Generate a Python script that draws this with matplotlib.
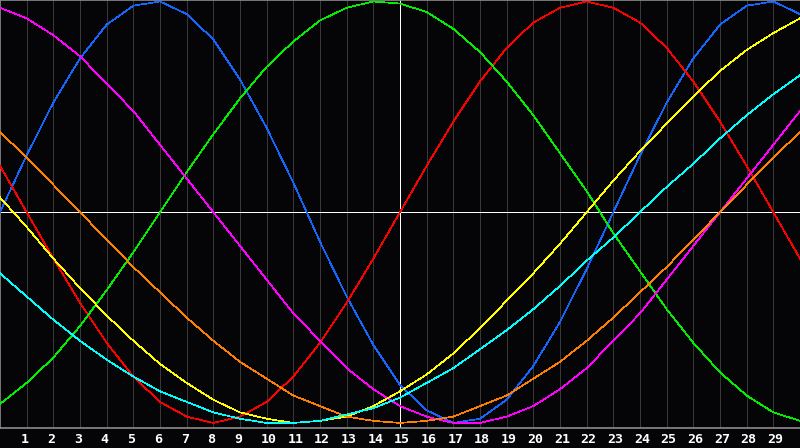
import numpy as np
import matplotlib.pyplot as plt
from matplotlib.transforms import offset_copy

# days shown on the chart (0 .. 30), today marked at day 15
days = np.arange(31)
today = 15
day_labels = [str(d) for d in range(1, 30)]

# cycle values in percent, one per day
physical = [0, 27, 52, 73, 89, 98, 100, 94, 82, 63, 40, 14, -14, -40, -63, -82,
            -94, -100, -98, -89, -73, -52, -27, 0, 27, 52, 73, 89, 98, 100, 94]
emotional = [22, 0, -22, -43, -62, -78, -90, -97, -100, -97, -90, -78, -62, -43, -22, 0,
             22, 43, 62, 78, 90, 97, 100, 97, 90, 78, 62, 43, 22, 0, -22]
intellectual = [-91, -81, -69, -54, -37, -19, 0, 19, 37, 54, 69, 81, 91, 97, 100, 99,
                95, 87, 76, 62, 46, 28, 10, -10, -28, -46, -62, -76, -87, -95, -99]
intuitive = [97, 92, 84, 74, 61, 48, 32, 16, 0, -16, -32, -48, -61, -74, -84, -92,
             -97, -100, -100, -97, -92, -84, -74, -61, -48, -32, -16, 0, 16, 32, 48]
aesthetic = [7, -7, -22, -36, -49, -61, -72, -81, -89, -95, -98, -100, -99, -97, -92, -85,
             -77, -67, -55, -42, -29, -15, 0, 15, 29, 42, 55, 67, 77, 85, 92]
awareness = [38, 26, 13, 0, -13, -26, -38, -50, -61, -71, -79, -87, -92, -97, -99, -100,
             -99, -97, -92, -87, -79, -71, -61, -50, -38, -26, -13, 0, 13, 26, 38]
spiritual = [-29, -40, -51, -61, -70, -78, -85, -90, -95, -98, -100, -100, -99, -96, -93, -88,
             -81, -74, -65, -56, -46, -35, -23, -12, 0, 12, 23, 35, 46, 56, 65]

series = [physical, emotional, intellectual, intuitive, aesthetic, awareness, spiritual]
colors = ['#1466ff', '#ff0000', '#00f000', '#ff00ff', '#ffff00', '#ff8000', '#00ffff']

bg = '#050507'
fig = plt.figure(figsize=(8, 4.48), dpi=100, facecolor=bg)
ax = fig.add_axes([0, 20 / 448, 1, 428 / 448], facecolor=bg)

for d in range(1, 30):
    ax.axvline(d, color='#383838', lw=0.6, antialiased=False, zorder=1)
ax.axvline(today, color='white', lw=0.7, antialiased=False, zorder=2)
ax.axhline(0, color='white', lw=0.7, antialiased=False, zorder=2)

for vals, c in zip(series, colors):
    ax.plot(days, vals, color=c, lw=0.5, antialiased=False, zorder=3)

ax.set_xlim(0, 30)
ax.set_ylim(-102.4, 100.7)
ax.set_xticks([])
ax.set_yticks([])
for side in ['left', 'top', 'bottom']:
    ax.spines[side].set_color('#8c8c8c')
    ax.spines[side].set_linewidth(1.2)
ax.spines['right'].set_visible(False)

# day numbers, left-aligned a few pixels before each grid line
trans = offset_copy(ax.get_xaxis_transform(), fig=fig, x=-6, y=-15, units='dots')
for d, lab in zip(range(1, 30), day_labels):
    ax.text(d, 0, lab, transform=trans, ha='left', va='baseline', color='white',
            fontsize=9.5, fontweight='bold', family='DejaVu Sans Mono')

fig.savefig('out.png', dpi=100, facecolor=bg)
